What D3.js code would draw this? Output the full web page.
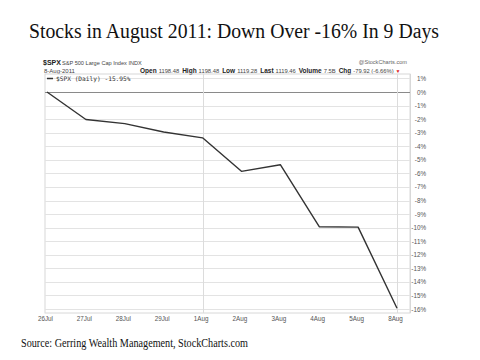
<!DOCTYPE html>
<html><head><meta charset="utf-8">
<script src="https://cdn.jsdelivr.net/npm/d3@7"></script>
<style>html,body{margin:0;padding:0;background:#fff}svg{display:block}</style>
</head><body>
<script>
const dates = ["26Jul","27Jul","28Jul","29Jul","1Aug","2Aug","3Aug","4Aug","5Aug","8Aug"];
const pctChange = [0, -2.03, -2.33, -2.95, -3.38, -5.85, -5.36, -9.93, -9.96, -15.95];
const yTicks = [1,0,-1,-2,-3,-4,-5,-6,-7,-8,-9,-10,-11,-12,-13,-14,-15,-16];
const weekStarts = ["1Aug","8Aug"];
const headerItems = [["Open","1198.48"],["High","1198.48"],["Low","1119.28"],["Last","1119.46"],["Volume","7.5B"],["Chg","-79.92 (-6.66%)"]];

const W = 480, H = 360;
const svg = d3.select("body").append("svg").attr("width", W).attr("height", H);
svg.append("rect").attr("width", W).attr("height", H).attr("fill", "#fff");

const plot = {left: 45, right: 410, top: 74, bottom: 313};
const x = d3.scalePoint().domain(dates).range([47, 397]);
const y = d3.scaleLinear().domain([0, -16]).range([92, 309]);

// title
svg.append("text").attr("x", 29).attr("y", 38)
  .attr("font-family", "'Liberation Serif', serif").attr("font-size", 20.5)
  .attr("fill", "#111").attr("textLength", 410).attr("lengthAdjust", "spacingAndGlyphs")
  .text("Stocks in August 2011: Down Over -16% In 9 Days");

// header
const hdr = svg.append("g").attr("font-family", "'Liberation Sans', Arial, sans-serif").attr("fill", "#222");
hdr.append("text").attr("x", 43).attr("y", 65).attr("font-size", 7).attr("font-weight", "bold").text("$SPX");
hdr.append("text").attr("x", 62).attr("y", 64.5).attr("font-size", 5.6).attr("fill", "#444").text("S&P 500 Large Cap Index  INDX");
hdr.append("text").attr("x", 44).attr("y", 72.5).attr("font-size", 6).attr("fill", "#444").text("8-Aug-2011");
hdr.append("text").attr("x", 407).attr("y", 64).attr("font-size", 5.6).attr("fill", "#666").attr("text-anchor", "end").text("@StockCharts.com");
const info = hdr.append("text").attr("x", 140).attr("y", 72.5).attr("font-size", 6.5);
headerItems.forEach(([k, v], i) => {
  info.append("tspan").attr("font-weight", "bold").attr("dx", i === 0 ? 0 : 3).text(k);
  info.append("tspan").attr("fill", "#444").attr("dx", 2).attr("font-size", 5.8).text(v);
});
info.append("tspan").attr("fill", "#d22").attr("dx", 2).attr("font-size", 5).text("▼");

// plot frame
svg.append("rect").attr("x", plot.left).attr("y", plot.top)
  .attr("width", plot.right - plot.left).attr("height", plot.bottom - plot.top)
  .attr("fill", "none").attr("stroke", "#d8d8d8").attr("stroke-width", 1);

// horizontal grid
svg.append("g").selectAll("line").data(yTicks).join("line")
  .attr("x1", plot.left).attr("x2", plot.right)
  .attr("y1", d => Math.round(y(d)) + 0.5).attr("y2", d => Math.round(y(d)) + 0.5)
  .attr("stroke", d => d === 0 ? "#8a8a8a" : "#e3e3e3").attr("stroke-width", 1);

// vertical grid
svg.append("g").selectAll("line").data(weekStarts).join("line")
  .attr("x1", d => Math.round(x(d)) + 0.5).attr("x2", d => Math.round(x(d)) + 0.5)
  .attr("y1", plot.top).attr("y2", plot.bottom)
  .attr("stroke", "#dcdcdc").attr("stroke-width", 1);

// right axis
const yAxis = d3.axisRight(y).tickValues(yTicks).tickSize(0).tickPadding(0)
  .tickFormat(d => d + "%");
const ya = svg.append("g").attr("transform", `translate(${plot.right},0)`).call(yAxis);
ya.select(".domain").attr("stroke", "#d8d8d8").attr("d", `M0.5,${plot.top}V${plot.bottom}`);
ya.selectAll("text").attr("x", 16).attr("text-anchor", "end")
  .attr("font-family", "'Liberation Sans', Arial, sans-serif").attr("font-size", 6.3).attr("fill", "#555");

// bottom axis
const xAxis = d3.axisBottom(x).tickSize(0).tickPadding(0);
const xa = svg.append("g").attr("transform", `translate(-2,${plot.bottom})`).call(xAxis);
xa.select(".domain").remove();
xa.selectAll("text").attr("dy", 8)
  .attr("font-family", "'Liberation Sans', Arial, sans-serif").attr("font-size", 6.3).attr("fill", "#555");

// legend
const leg = svg.append("g");
leg.append("line").attr("x1", 47).attr("x2", 53).attr("y1", 78.5).attr("y2", 78.5).attr("stroke", "#333").attr("stroke-width", 1.5);
leg.append("text").attr("x", 56).attr("y", 81).attr("font-family", "'DejaVu Sans Mono', monospace")
  .attr("font-size", 6.2).attr("fill", "#333").text("$SPX (Daily) -15.95%");

// line
const line = d3.line().x((d, i) => x(dates[i])).y(d => y(d));
svg.append("path").datum(pctChange).attr("d", line)
  .attr("fill", "none").attr("stroke", "#333").attr("stroke-width", 1.4).attr("stroke-linejoin", "round");

// source
svg.append("text").attr("x", 21).attr("y", 347)
  .attr("font-family", "'Liberation Serif', serif").attr("font-size", 11.5).attr("fill", "#111")
  .attr("textLength", 227).attr("lengthAdjust", "spacingAndGlyphs")
  .text("Source: Gerring Wealth Management, StockCharts.com");
</script>
</body></html>
